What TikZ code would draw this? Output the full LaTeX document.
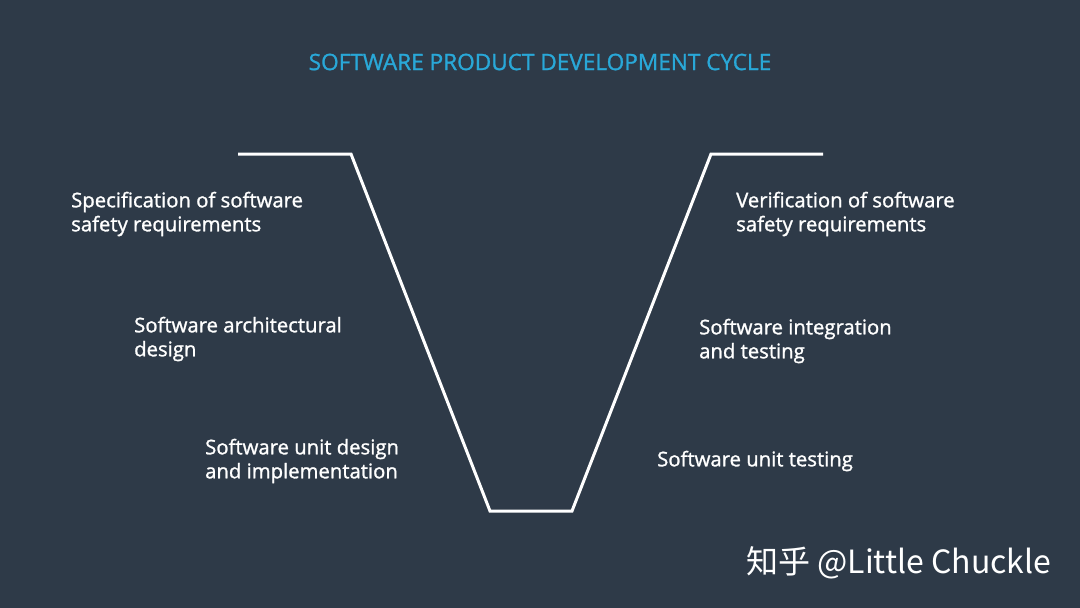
\documentclass[tikz,border=0pt]{standalone}
\usepackage{fontspec}
\setmainfont{Open Sans}
\newfontfamily\semifont{Open Sans}[FakeBold=1.2]
\newfontfamily\cjkfont{Noto Sans CJK SC}
\usepackage{tikz}
\usetikzlibrary{positioning}
\definecolor{bgslate}{HTML}{2E3A48}
\definecolor{titleblue}{HTML}{29A8D8}

\begin{document}
\begin{tikzpicture}
	[x=1pt,y=-1pt,
	 every node/.style={text=white,inner sep=0pt},
	 phase/.style={anchor=west,align=left,font=\semifont\fontsize{20.3}{24}\selectfont},
	 vline/.style={draw=white,line width=3pt,line join=miter}]
	\fill[bgslate] (0,0) rectangle (1080,608);
	\useasboundingbox (0,0) rectangle (1080,608);
	\node (title) at (540,62) [text=titleblue,font=\semifont\fontsize{22.6}{26}\selectfont] {SOFTWARE PRODUCT DEVELOPMENT CYCLE};
	% the V
	\coordinate (lt) at (238,154);
	\coordinate (lk) at (351,154);
	\coordinate (bl) at (490,511);
	\coordinate (br) at (572,511);
	\coordinate (rk) at (711,154);
	\coordinate (rt) at (823,154);
	\draw[vline] (lt) -- (lk) -- (bl) -- (br) -- (rk) -- (rt);
	% left side
	\node (spec) at (71,214) [phase] {Specification of software\\safety requirements};
	\node (arch) at (134,339) [phase] {Software architectural\\design};
	\node (unitdes) at (205,461) [phase] {Software unit design\\and implementation};
	% right side
	\node (verif) at (736,214) [phase] {Verification of software\\safety requirements};
	\node (integ) at (699,341) [phase] {Software integration\\and testing};
	\node (unittest) at (657,461) [phase] {Software unit testing};
	\node (mark) at (746,563) [anchor=west,font=\cjkfont\fontsize{32}{36}\selectfont] {知乎 @Little Chuckle};
\end{tikzpicture}
\end{document}
